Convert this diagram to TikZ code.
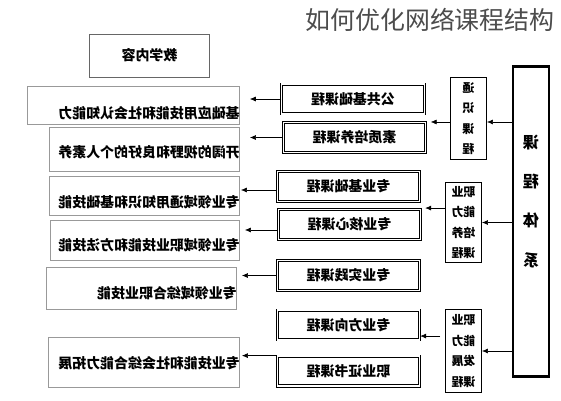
\documentclass[tikz,border=0pt]{standalone}
\usepackage{fontspec}
\usepackage{graphicx}
\newfontfamily\cjk{Noto Sans CJK SC}
\usetikzlibrary{arrows.meta}
\newcommand{\mirtxt}[1]{\reflectbox{#1}}

\begin{document}
\begin{tikzpicture}[x=1bp,y=-1bp,
  headbox/.style={draw=black!60, line width=0.6pt, inner sep=0pt,
    font={\cjk\bfseries\fontsize{14pt}{16pt}\selectfont}},
  contbox/.style={draw=black!40, line width=0.6pt, inner sep=0pt},
  conttxt/.style={inner sep=0pt, anchor=east,
    font={\cjk\bfseries\fontsize{14pt}{16pt}\selectfont}},
  course/.style={draw, double, double distance=1.3pt, line width=0.9pt,
    minimum width=143, minimum height=30, inner sep=0pt,
    font={\cjk\bfseries\fontsize{14pt}{16pt}\selectfont}},
  catbox/.style={draw, line width=1.1pt, minimum width=36, inner sep=0pt, align=center,
    font={\cjk\bfseries\fontsize{12pt}{20.5pt}\selectfont}},
  sysbox/.style={draw, line width=2.4pt, minimum width=36, minimum height=311, inner sep=0pt},
  systxt/.style={inner sep=0pt, align=center,
    font={\cjk\bfseries\fontsize{16pt}{39.5pt}\selectfont}},
  arr/.style={-{Latex[length=6pt,width=5pt]}, line width=0.6pt}]
\useasboundingbox (0,0) rectangle (561,400);

% title
\node[text=black!70, font={\cjk\fontsize{25pt}{25pt}\selectfont}] (title) at (430,20) {如何优化网络课程结构};

% teaching content (left column)
\node[headbox, minimum width=121, minimum height=43] (head) at (149.5,55.5) {\mirtxt{教学内容}};
\node[contbox, minimum width=213, minimum height=38] (aim1) at (133.5,105) {};
\node[contbox, minimum width=191, minimum height=44] (aim2) at (144.5,149) {};
\node[contbox, minimum width=191, minimum height=39] (aim3) at (144.5,195.5) {};
\node[contbox, minimum width=190, minimum height=40] (aim4) at (145,240) {};
\node[contbox, minimum width=191, minimum height=42] (aim5) at (141.5,288) {};
\node[contbox, minimum width=192, minimum height=50] (aim6) at (144,362) {};
\node[conttxt] (aim1t) at ([yshift=-8pt]aim1.east) {\mirtxt{基础应用技能和社会认知能力}};
\node[conttxt] (aim2t) at ([yshift=-3pt]aim2.east) {\mirtxt{开阔的视野和良好的个人素养}};
\node[conttxt] (aim3t) at ([yshift=-6.5pt]aim3.east) {\mirtxt{专业领域通用知识和基础技能}};
\node[conttxt] (aim4t) at ([yshift=-5pt]aim4.east) {\mirtxt{专业领域职业技能和方法技能}};
\node[conttxt] (aim5t) at ([yshift=-5pt]aim5.east) {\mirtxt{专业领域综合职业技能}};
\node[conttxt] (aim6t) at ([yshift=-1pt]aim6.east) {\mirtxt{专业技能和社会综合能力拓展}};

% courses (middle column)
\node[course] (pub)  at (353,99)    {\mirtxt{公共基础课程}};
\node[course] (qual) at (354.5,137.5) {\mirtxt{素质培养课程}};
\node[course] (base) at (348.5,186.5) {\mirtxt{专业基础课程}};
\node[course] (core) at (349.5,224.5) {\mirtxt{专业核心课程}};
\node[course] (prac) at (348.5,275.5) {\mirtxt{专业实践课程}};
\node[course] (dir)  at (348.5,325)   {\mirtxt{专业方向课程}};
\node[course] (cert) at (348.5,371)   {\mirtxt{职业证书课程}};

% course groups
\node[catbox, minimum height=83] (gen)   at (468.5,118.5) {\mirtxt{通}\\\mirtxt{识}\\\mirtxt{课}\\\mirtxt{程}};
\node[catbox, minimum height=81] (train) at (463.5,222.5) {\mirtxt{职业}\\\mirtxt{能力}\\\mirtxt{培养}\\\mirtxt{课程}};
\node[catbox, minimum height=84] (dev)   at (463.5,351)   {\mirtxt{职业}\\\mirtxt{能力}\\\mirtxt{发展}\\\mirtxt{课程}};

% curriculum system
\node[sysbox] (sys) at (531,221.5) {};
\node[systxt] (syst) at ([yshift=20.5pt]sys.center) {\mirtxt{课}\\\mirtxt{程}\\\mirtxt{体}\\\mirtxt{系}};

% system -> groups
\coordinate (ge) at ([yshift=-3.5pt]gen.east);
\draw[arr] (ge -| sys.west) -- (ge);
\draw[arr] (train.east -| sys.west) -- (train.east);
\draw[arr] (dev.east -| sys.west) -- (dev.east);

% groups -> courses
\coordinate (gl) at ([yshift=-3.5pt]gen.west);
\draw[arr, shorten >=6pt] (gl) -- (gl -| pub.east);
\coordinate (tl) at ([yshift=14.5pt]train.west);
\draw[arr, shorten >=5pt] (tl) -- (tl -| base.east);
\coordinate (dl) at ([yshift=15pt]dev.west);
\draw[arr, shorten <=5pt] (dl) -- (dl -| dir.east);

% courses -> content
\draw[arr, shorten >=10pt] (pub.west) -- (pub.west -| aim1.east);
\draw[arr, shorten >=10pt] (qual.west) -- (qual.west -| aim2.east);
\coordinate (bl) at ([yshift=-3.5pt]base.west);
\draw[arr, shorten >=1pt] (bl) -- (bl -| aim3.east);
\coordinate (cl) at ([yshift=-5.5pt]core.west);
\draw[arr, shorten >=5pt] (cl) -- (cl -| aim4.east);
\draw[arr, shorten >=5pt] (prac.west) -- (prac.west -| aim5.east);
\draw[arr, shorten >=2pt] (cert.north west) -- (cert.north west -| aim6.east);
\end{tikzpicture}
\end{document}
